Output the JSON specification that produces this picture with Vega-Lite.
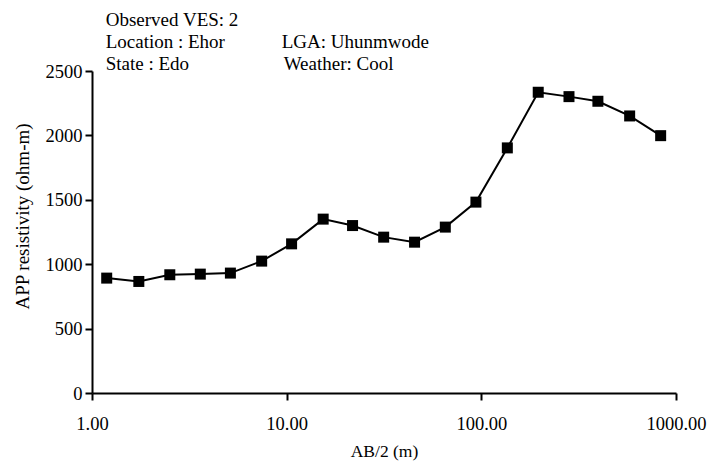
{
  "$schema": "https://vega.github.io/schema/vega-lite/v6.json",
  "width": 584,
  "height": 322,
  "autosize": {"type": "none"},
  "padding": {"left": 92, "top": 71, "right": 41, "bottom": 71},
  "background": "white",
  "config": {
    "view": {"stroke": null},
    "font": "Liberation Serif",
    "axis": {
      "grid": false,
      "domainColor": "black",
      "domainWidth": 2,
      "tickColor": "black",
      "tickWidth": 2,
      "tickSize": 7,
      "labelColor": "black",
      "titleColor": "black",
      "labelFont": "Liberation Serif",
      "titleFont": "Liberation Serif",
      "labelFontSize": 18.5,
      "titleFontSize": 17.5,
      "titleFontWeight": "normal"
    }
  },
  "datasets": {
    "ves": [
      {"ab2": 1.19, "rho": 892},
      {"ab2": 1.74, "rho": 866},
      {"ab2": 2.51, "rho": 918},
      {"ab2": 3.6, "rho": 923},
      {"ab2": 5.14, "rho": 931},
      {"ab2": 7.44, "rho": 1024},
      {"ab2": 10.6, "rho": 1158},
      {"ab2": 15.4, "rho": 1350},
      {"ab2": 21.8, "rho": 1300},
      {"ab2": 31.5, "rho": 1210},
      {"ab2": 45.4, "rho": 1171},
      {"ab2": 65.3, "rho": 1288},
      {"ab2": 93.8, "rho": 1482},
      {"ab2": 136, "rho": 1903},
      {"ab2": 196, "rho": 2335},
      {"ab2": 282, "rho": 2301},
      {"ab2": 397, "rho": 2265},
      {"ab2": 578, "rho": 2151},
      {"ab2": 834, "rho": 1998}
    ],
    "notes": [
      {"label": "Observed VES: 2", "ab2": 1.176, "rho": 2849},
      {"label": "Location : Ehor", "ab2": 1.176, "rho": 2679},
      {"label": "State : Edo", "ab2": 1.176, "rho": 2508},
      {"label": "LGA: Uhunmwode", "ab2": 9.43, "rho": 2679},
      {"label": "Weather: Cool", "ab2": 9.65, "rho": 2508}
    ]
  },
  "layer": [
    {
      "data": {"name": "ves"},
      "mark": {"type": "line", "color": "black", "strokeWidth": 2},
      "encoding": {
        "x": {
          "field": "ab2", "type": "quantitative",
          "scale": {"type": "log", "domain": [1, 1000], "nice": false},
          "axis": {
            "title": "AB/2 (m)",
            "values": [1, 10, 100, 1000],
            "format": ".2f",
            "labelPadding": 14,
            "titlePadding": 10,
            "labelFlush": false
          }
        },
        "y": {
          "field": "rho", "type": "quantitative",
          "scale": {"domain": [0, 2500], "nice": false},
          "axis": {
            "title": "APP resistivity (ohm-m)",
            "values": [0, 500, 1000, 1500, 2000, 2500],
            "format": "d",
            "labelPadding": 3,
            "titleFontSize": 19,
            "titleX": -70,
            "titleY": 145,
            "titleAngle": -90,
            "titleAlign": "center",
            "titleBaseline": "middle"
          }
        }
      }
    },
    {
      "data": {"name": "ves"},
      "mark": {"type": "point", "shape": "square", "filled": true, "color": "black", "size": 121, "opacity": 1},
      "encoding": {
        "x": {"field": "ab2", "type": "quantitative"},
        "y": {"field": "rho", "type": "quantitative"}
      }
    },
    {
      "data": {"name": "notes"},
      "mark": {"type": "text", "align": "left", "baseline": "alphabetic", "fontSize": 19, "font": "Liberation Serif", "color": "black", "clip": false},
      "encoding": {
        "x": {"field": "ab2", "type": "quantitative"},
        "y": {"field": "rho", "type": "quantitative"},
        "text": {"field": "label"}
      }
    }
  ]
}
